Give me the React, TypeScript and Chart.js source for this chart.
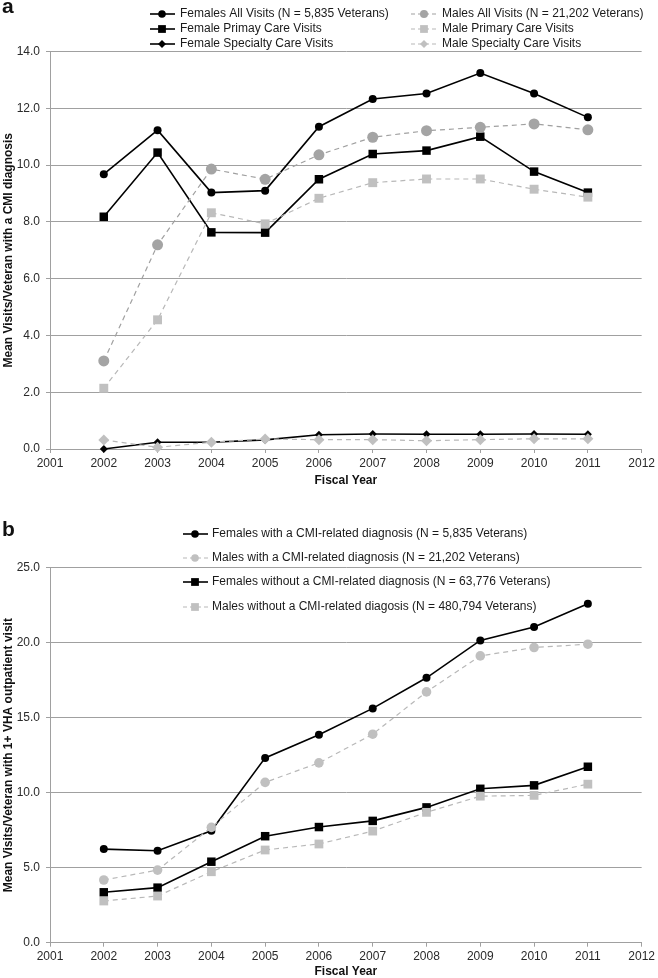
import React, { useEffect, useRef } from 'react';
import { Chart, registerables } from 'chart.js';

Chart.register(...registerables);

// ---------- data ----------
const years = [2002, 2003, 2004, 2005, 2006, 2007, 2008, 2009, 2010, 2011];

// panel a
const femalesAllVisits = [9.68, 11.23, 9.03, 9.1, 11.35, 12.33, 12.52, 13.24, 12.52, 11.68];
const malesAllVisits = [3.1, 7.19, 9.86, 9.5, 10.36, 10.98, 11.21, 11.33, 11.45, 11.24];
const femalePrimaryCare = [8.18, 10.44, 7.63, 7.62, 9.5, 10.39, 10.51, 11.0, 9.77, 9.03];
const malePrimaryCare = [2.14, 4.55, 8.32, 7.93, 8.83, 9.38, 9.51, 9.51, 9.15, 8.87];
const femaleSpecialtyCare = [0.0, 0.24, 0.24, 0.32, 0.5, 0.53, 0.52, 0.52, 0.53, 0.52];
const maleSpecialtyCare = [0.32, 0.06, 0.24, 0.35, 0.33, 0.33, 0.29, 0.33, 0.36, 0.36];

// panel b
const femalesWithCmi = [6.24, 6.13, 7.46, 12.32, 13.86, 15.62, 17.66, 20.15, 21.05, 22.6];
const malesWithCmi = [4.18, 4.84, 7.69, 10.69, 11.99, 13.9, 16.72, 19.12, 19.68, 19.9];
const femalesWithoutCmi = [3.36, 3.67, 5.4, 7.1, 7.71, 8.12, 9.02, 10.26, 10.49, 11.73];
const malesWithoutCmi = [2.78, 3.11, 4.73, 6.18, 6.58, 7.44, 8.69, 9.77, 9.82, 10.57];

const labelsA = [
  'Females All Visits (N = 5,835 Veterans)',
  'Males All Visits (N = 21,202 Veterans)',
  'Female Primay Care Visits',
  'Male Primary Care Visits',
  'Female Specialty Care Visits',
  'Male Specialty Care Visits',
];
const labelsB = [
  'Females with a CMI-related diagnosis (N = 5,835 Veterans)',
  'Males with a CMI-related diagnosis (N = 21,202 Veterans)',
  'Females without a CMI-related diagnosis (N = 63,776 Veterans)',
  'Males without a CMI-related diagosis (N = 480,794 Veterans)',
];

const xAxisTitle = 'Fiscal Year';
const yAxisTitleA = 'Mean Visits/Veteran with a CMI diagnosis';
const yAxisTitleB = 'Mean Visits/Veteran with 1+ VHA outpatient visit';

// ---------- styles ----------
const FONT = "'Liberation Sans', Arial, Helvetica, sans-serif";
const GRID = '#a0a0a0';
const TEXT = '#2a2a2a';

type Style = {
  color: string;
  dashed: boolean;
  point: 'circle' | 'rect' | 'rectRot';
  radius: number;
  legendRadius: number;
  order: number;
};

const BLACK = '#000000';
const GREY_DARK = '#a4a4a4';
const GREY_LIGHT = '#c0c0c0';

const stylesA: Style[] = [
  { color: BLACK, dashed: false, point: 'circle', radius: 4, legendRadius: 3.8, order: 2 },
  { color: GREY_DARK, dashed: true, point: 'circle', radius: 5.5, legendRadius: 4, order: 1 },
  { color: BLACK, dashed: false, point: 'rect', radius: 6, legendRadius: 5.5, order: 2 },
  { color: GREY_LIGHT, dashed: true, point: 'rect', radius: 6.3, legendRadius: 5.5, order: 1 },
  { color: BLACK, dashed: false, point: 'rectRot', radius: 4, legendRadius: 4, order: 2 },
  { color: GREY_LIGHT, dashed: true, point: 'rectRot', radius: 5.5, legendRadius: 4, order: 1 },
];
const stylesB: Style[] = [
  { color: BLACK, dashed: false, point: 'circle', radius: 4, legendRadius: 3.8, order: 2 },
  { color: GREY_LIGHT, dashed: true, point: 'circle', radius: 4.8, legendRadius: 3.8, order: 1 },
  { color: BLACK, dashed: false, point: 'rect', radius: 6, legendRadius: 5.5, order: 2 },
  { color: GREY_LIGHT, dashed: true, point: 'rect', radius: 6.2, legendRadius: 5.5, order: 1 },
];

function lineColor(s: Style) {
  return s.dashed ? (s.color === GREY_DARK ? '#a0a0a0' : '#b8b8b8') : s.color;
}

function toPoints(values: number[]) {
  return years.map((yr, i) => ({ x: yr, y: values[i] }));
}

function makeDataset(label: string, values: number[], s: Style) {
  return {
    label,
    data: toPoints(values),
    borderColor: lineColor(s),
    backgroundColor: s.color,
    borderWidth: s.dashed ? 1.2 : 1.6,
    borderDash: s.dashed ? [5, 4] : [],
    pointStyle: s.point,
    pointRadius: s.radius,
    pointBackgroundColor: s.color,
    pointBorderColor: s.color,
    pointBorderWidth: 0,
    tension: 0,
    fill: false,
    clip: false,
    order: s.order,
  };
}

function drawMarker(ctx: CanvasRenderingContext2D, style: string, x: number, y: number, r: number, color: string) {
  ctx.beginPath();
  ctx.fillStyle = color;
  if (style === 'circle') {
    ctx.arc(x, y, r, 0, Math.PI * 2);
  } else if (style === 'rect') {
    const h = r * Math.SQRT1_2;
    ctx.rect(x - h, y - h, 2 * h, 2 * h);
  } else {
    ctx.moveTo(x - r, y);
    ctx.lineTo(x, y - r);
    ctx.lineTo(x + r, y);
    ctx.lineTo(x, y + r);
    ctx.closePath();
  }
  ctx.fill();
}

type Col = { x0: number; x1: number; mx: number; tx: number };

function legendPlugin(
  id: string,
  labels: string[],
  styles: Style[],
  slots: { col: number; row: number }[],
  cols: Col[],
  rows: number[],
  letter: string,
  letterY: number
) {
  return {
    id,
    afterDraw(chart: any) {
      const ctx: CanvasRenderingContext2D = chart.ctx;
      ctx.save();
      labels.forEach((text, i) => {
        const s = styles[i];
        const c = cols[slots[i].col];
        const y = rows[slots[i].row];
        ctx.beginPath();
        ctx.strokeStyle = lineColor(s);
        ctx.lineWidth = s.dashed ? 1.2 : 1.6;
        ctx.setLineDash(s.dashed ? [4, 3] : []);
        ctx.moveTo(c.x0, y);
        ctx.lineTo(c.x1, y);
        ctx.stroke();
        ctx.setLineDash([]);
        drawMarker(ctx, s.point, c.mx, y, s.legendRadius, s.color);
        ctx.fillStyle = '#1a1a1a';
        ctx.font = `12px ${FONT}`;
        ctx.textAlign = 'left';
        ctx.textBaseline = 'middle';
        ctx.fillText(text, c.tx, y);
      });
      ctx.font = `bold 21px ${FONT}`;
      ctx.fillStyle = '#111111';
      ctx.textAlign = 'left';
      ctx.textBaseline = 'alphabetic';
      ctx.fillText(letter, 2, letterY);
      ctx.restore();
    },
  };
}

function makeOptions(opts: {
  yMax: number;
  yStep: number;
  yTitle: string;
  padTop: number;
  padBottom: number;
  xHeight: number;
}) {
  return {
    animation: false as const,
    responsive: false,
    maintainAspectRatio: false,
    layout: { padding: { top: opts.padTop, right: 15, bottom: opts.padBottom, left: 0 } },
    plugins: { legend: { display: false }, tooltip: { enabled: false }, title: { display: false } },
    scales: {
      x: {
        type: 'linear' as const,
        min: 2001,
        max: 2012,
        afterFit: (s: any) => {
          s.height = opts.xHeight;
        },
        ticks: {
          stepSize: 1,
          padding: 3,
          color: TEXT,
          font: { family: FONT, size: 12 },
          callback: (v: any) => String(v),
          maxRotation: 0,
          autoSkip: false,
        },
        grid: { display: true, drawOnChartArea: false, drawTicks: true, tickLength: 4, color: GRID, lineWidth: 1 },
        border: { display: true, color: GRID, width: 1 },
        title: {
          display: true,
          text: xAxisTitle,
          color: '#111111',
          font: { family: FONT, size: 12, weight: 'bold' as const, lineHeight: 1 },
          padding: { top: 0, bottom: 0 },
        },
      },
      y: {
        type: 'linear' as const,
        min: 0,
        max: opts.yMax,
        afterFit: (s: any) => {
          s.width = 50;
        },
        ticks: {
          stepSize: opts.yStep,
          padding: 6,
          color: TEXT,
          font: { family: FONT, size: 12 },
          callback: (v: any) => Number(v).toFixed(1),
        },
        grid: { display: true, drawOnChartArea: true, drawTicks: true, tickLength: 4, color: GRID, lineWidth: 1 },
        border: { display: true, color: GRID, width: 1 },
        title: {
          display: true,
          text: opts.yTitle,
          color: '#111111',
          font: { family: FONT, size: 12, weight: 'bold' as const },
          padding: { top: 1, bottom: 0 },
        },
      },
    },
  };
}

function ChartCanvas({ top, height, build }: { top: number; height: number; build: () => any }) {
  const ref = useRef<HTMLCanvasElement | null>(null);
  useEffect(() => {
    if (!ref.current) return;
    const chart = new Chart(ref.current, build());
    return () => chart.destroy();
  }, []);
  return (
    <canvas
      ref={ref}
      width={658}
      height={height}
      style={{ position: 'absolute', left: 0, top, width: 658, height, display: 'block' }}
    />
  );
}

const buildA = () => {
  const series = [femalesAllVisits, malesAllVisits, femalePrimaryCare, malePrimaryCare, femaleSpecialtyCare, maleSpecialtyCare];
  return {
    type: 'line' as const,
    data: { datasets: series.map((v, i) => makeDataset(labelsA[i], v, stylesA[i])) },
    options: makeOptions({ yMax: 14, yStep: 2, yTitle: yAxisTitleA, padTop: 51.5, padBottom: 1, xHeight: 38 }),
    plugins: [
      legendPlugin(
        'legendA',
        labelsA,
        stylesA,
        [
          { col: 0, row: 0 },
          { col: 1, row: 0 },
          { col: 0, row: 1 },
          { col: 1, row: 1 },
          { col: 0, row: 2 },
          { col: 1, row: 2 },
        ],
        [
          { x0: 150, x1: 175, mx: 162, tx: 180 },
          { x0: 411, x1: 438, mx: 424, tx: 442 },
        ],
        [14, 29, 44],
        'a',
        13
      ),
    ],
  };
};

const buildB = () => {
  const series = [femalesWithCmi, malesWithCmi, femalesWithoutCmi, malesWithoutCmi];
  return {
    type: 'line' as const,
    data: { datasets: series.map((v, i) => makeDataset(labelsB[i], v, stylesB[i])) },
    options: makeOptions({ yMax: 25, yStep: 5, yTitle: yAxisTitleB, padTop: 79.7, padBottom: 0, xHeight: 35.3 }),
    plugins: [
      legendPlugin(
        'legendB',
        labelsB,
        stylesB,
        [
          { col: 0, row: 0 },
          { col: 0, row: 1 },
          { col: 0, row: 2 },
          { col: 0, row: 3 },
        ],
        [{ x0: 183, x1: 208, mx: 195, tx: 212 }],
        [46, 70, 94, 119],
        'b',
        48
      ),
    ],
  };
};

export default function App() {
  return (
    <div
      style={{
        position: 'absolute',
        left: 0,
        top: 0,
        width: 658,
        height: 978,
        overflow: 'hidden',
        background: '#ffffff',
      }}
    >
      <ChartCanvas top={0} height={488} build={buildA} />
      <ChartCanvas top={488} height={490} build={buildB} />
    </div>
  );
}
